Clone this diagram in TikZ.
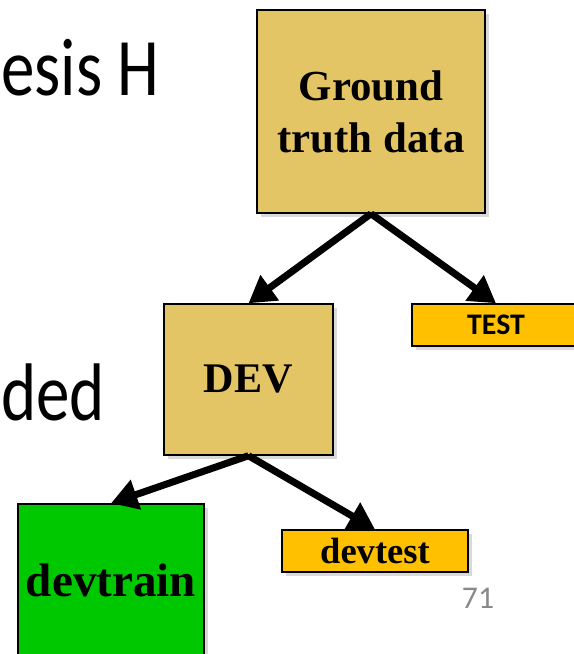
\documentclass[tikz,border=0pt]{standalone}
\usepackage{fontspec}
\setmainfont{Liberation Serif}
\newfontfamily\slidefont[FakeStretch=0.82]{Carlito}
\newfontfamily\tagfont{Carlito}
\usetikzlibrary{arrows.meta,shadows}
\definecolor{sand}{RGB}{228,197,102}
\definecolor{amber}{RGB}{255,192,0}
\definecolor{leaf}{RGB}{0,200,0}
\definecolor{pagegray}{RGB}{137,137,137}

\begin{document}
\begin{tikzpicture}[x=0.02cm, y=-0.02cm,
		box/.style={draw=black, line width=0.85pt, inner sep=0pt, align=center,
			drop shadow={shadow xshift=2.5pt, shadow yshift=-2.5pt, opacity=0.3}},
		arr/.style={line width=4pt, -{Triangle[length=15pt,width=17pt]}}]
				\useasboundingbox (0, 0) rectangle (574, 654);
				\node[anchor=base west, inner sep=0pt, font=\slidefont\fontsize{46.5pt}{52pt}\selectfont] (hyp) at (1, 95) {esis H};
				\node[anchor=base west, inner sep=0pt, font=\slidefont\fontsize{46.5pt}{52pt}\selectfont] (ded) at (1, 420) {ded};
				\node[box, fill=sand, minimum width=4.56cm, minimum height=4.06cm,
					font=\bfseries\fontsize{24.4pt}{29.5pt}\selectfont] (gt) at (371, 111.5) {Ground\\truth data};
				\node[box, fill=sand, minimum width=3.38cm, minimum height=3.02cm,
					font=\bfseries\fontsize{24pt}{28pt}\selectfont] (dev) at (248.5, 379.5) {DEV};
				\node[box, fill=amber, minimum width=3.36cm, minimum height=0.84cm,
					font=\tagfont\bfseries\fontsize{17pt}{20pt}\selectfont] (test) at (496, 325) {TEST};
				\node[box, fill=leaf, minimum width=3.72cm, minimum height=3.04cm,
					font=\bfseries\fontsize{26.8pt}{30pt}\selectfont] (devtrain) at (111, 580) {devtrain};
				\node[box, fill=amber, minimum width=3.72cm, minimum height=0.84cm,
					font=\bfseries\fontsize{20.8pt}{24pt}\selectfont] (devtest) at (375, 551) {devtest};
				\node[anchor=base, inner sep=0pt, text=pagegray, font=\tagfont\fontsize{18pt}{20pt}\selectfont] (page) at (478, 608) {71};
				\draw[arr] (gt.south) -- (dev.north);
				\draw[arr] (gt.south) -- (test.north);
				\draw[arr] (dev.south) -- (devtrain.north);
				\draw[arr] (dev.south) -- (devtest.north);
			\end{tikzpicture}
\end{document}
